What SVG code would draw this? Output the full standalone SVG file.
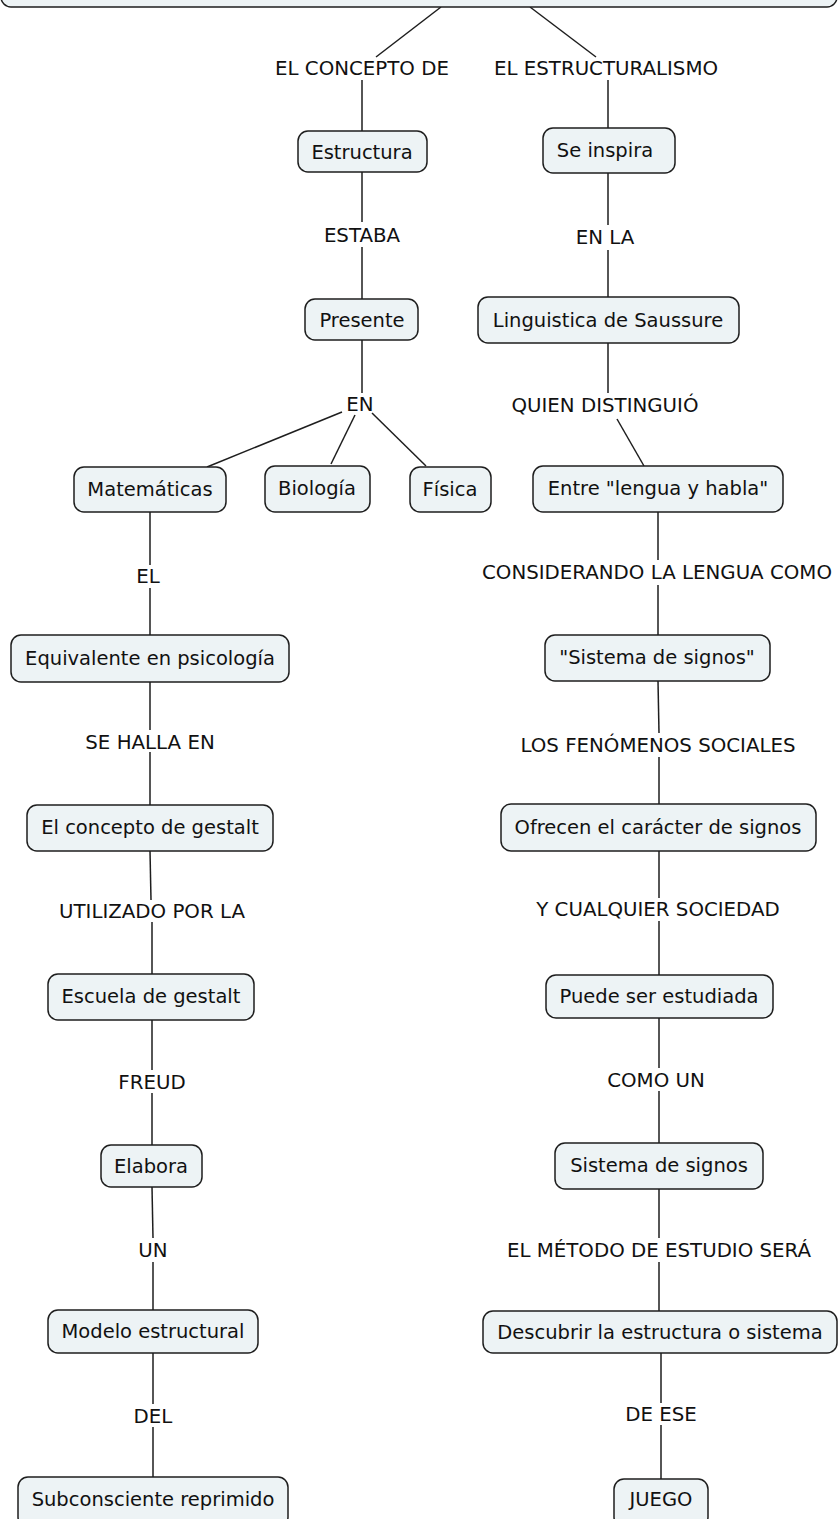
<svg xmlns="http://www.w3.org/2000/svg" width="838" height="1519" viewBox="0 0 838 1519">
<style>
.n rect{fill:#edf3f5;stroke:#1e1e1e;stroke-width:1.5}
text{font-family:"DejaVu Sans",Verdana,sans-serif;font-size:19.5px;fill:#111;text-anchor:middle}
#labels text{font-size:19.8px}
.c line{stroke:#1e1e1e;stroke-width:1.5}
</style>
<rect width="838" height="1519" fill="#fff"/>
<g class="c">
<line x1="441" y1="7" x2="376" y2="57"/>
<line x1="362" y1="80" x2="362" y2="131"/>
<line x1="530" y1="7" x2="596" y2="57"/>
<line x1="608" y1="80" x2="608" y2="128"/>
<line x1="362" y1="172" x2="362" y2="222"/>
<line x1="362" y1="247" x2="362" y2="299"/>
<line x1="608" y1="173" x2="608" y2="225"/>
<line x1="608" y1="250" x2="608" y2="297"/>
<line x1="362" y1="340" x2="362" y2="393"/>
<line x1="342" y1="412" x2="207" y2="467"/>
<line x1="355" y1="415" x2="331" y2="464"/>
<line x1="372" y1="413" x2="426" y2="466"/>
<line x1="608" y1="343" x2="608" y2="393"/>
<line x1="617" y1="419" x2="644" y2="466"/>
<line x1="150" y1="512" x2="150" y2="565"/>
<line x1="150" y1="588" x2="150" y2="635"/>
<line x1="658" y1="512" x2="658" y2="560"/>
<line x1="658" y1="585" x2="658" y2="635"/>
<line x1="150" y1="682" x2="150" y2="730"/>
<line x1="150" y1="752" x2="150" y2="805"/>
<line x1="658" y1="681" x2="659" y2="733"/>
<line x1="659" y1="757" x2="659" y2="804"/>
<line x1="150" y1="851" x2="151" y2="900"/>
<line x1="152" y1="922" x2="152" y2="974"/>
<line x1="659" y1="851" x2="659" y2="898"/>
<line x1="659" y1="921" x2="659" y2="975"/>
<line x1="152" y1="1020" x2="152" y2="1070"/>
<line x1="152" y1="1093" x2="152" y2="1145"/>
<line x1="659" y1="1018" x2="659" y2="1068"/>
<line x1="659" y1="1091" x2="659" y2="1143"/>
<line x1="152" y1="1187" x2="153" y2="1238"/>
<line x1="153" y1="1262" x2="153" y2="1310"/>
<line x1="659" y1="1189" x2="659" y2="1238"/>
<line x1="659" y1="1262" x2="659" y2="1311"/>
<line x1="153" y1="1353" x2="153" y2="1404"/>
<line x1="153" y1="1427" x2="153" y2="1477"/>
<line x1="661" y1="1353" x2="661" y2="1403"/>
<line x1="661" y1="1425" x2="661" y2="1479"/>
</g>
<g id="labels">
<text x="362" y="75">EL CONCEPTO DE</text>
<text x="606" y="75">EL ESTRUCTURALISMO</text>
<text x="362" y="242">ESTABA</text>
<text x="605" y="244">EN LA</text>
<text x="360" y="411">EN</text>
<text x="605" y="412">QUIEN DISTINGUIÓ</text>
<text x="148" y="583">EL</text>
<text x="657" y="579">CONSIDERANDO LA LENGUA COMO</text>
<text x="150" y="749">SE HALLA EN</text>
<text x="658" y="752">LOS FENÓMENOS SOCIALES</text>
<text x="152" y="918">UTILIZADO POR LA</text>
<text x="658" y="916">Y CUALQUIER SOCIEDAD</text>
<text x="152" y="1089">FREUD</text>
<text x="656" y="1087">COMO UN</text>
<text x="153" y="1257">UN</text>
<text x="659" y="1257">EL MÉTODO DE ESTUDIO SERÁ</text>
<text x="153" y="1423">DEL</text>
<text x="661" y="1421">DE ESE</text>
</g>
<g id="root" class="n"><rect x="1" y="-30" width="836" height="37" rx="10"/></g>
<g id="estructura" class="n"><rect x="298" y="131" width="129" height="41" rx="10"/><text x="362" y="159">Estructura</text></g>
<g id="seinspira" class="n"><rect x="543" y="128" width="132" height="45" rx="10"/><text x="605" y="157">Se inspira</text></g>
<g id="presente" class="n"><rect x="305" y="299" width="113" height="41" rx="10"/><text x="362" y="327">Presente</text></g>
<g id="linguistica" class="n"><rect x="478" y="297" width="261" height="46" rx="10"/><text x="608" y="327">Linguistica de Saussure</text></g>
<g id="matematicas" class="n"><rect x="74" y="467" width="152" height="45" rx="10"/><text x="150" y="496">Matemáticas</text></g>
<g id="biologia" class="n"><rect x="265" y="466" width="105" height="46" rx="10"/><text x="317" y="495">Biología</text></g>
<g id="fisica" class="n"><rect x="410" y="467" width="81" height="45" rx="10"/><text x="450" y="496">Física</text></g>
<g id="entre" class="n"><rect x="533" y="466" width="250" height="46" rx="10"/><text x="658" y="495">Entre "lengua y habla"</text></g>
<g id="equivalente" class="n"><rect x="11" y="635" width="278" height="47" rx="10"/><text x="150" y="665">Equivalente en psicología</text></g>
<g id="sistema1" class="n"><rect x="545" y="635" width="225" height="46" rx="10"/><text x="657" y="664">"Sistema de signos"</text></g>
<g id="gestalt" class="n"><rect x="27" y="805" width="246" height="46" rx="10"/><text x="150" y="834">El concepto de gestalt</text></g>
<g id="ofrecen" class="n"><rect x="501" y="804" width="315" height="47" rx="10"/><text x="658" y="834">Ofrecen el carácter de signos</text></g>
<g id="escuela" class="n"><rect x="48" y="974" width="206" height="46" rx="10"/><text x="151" y="1003">Escuela de gestalt</text></g>
<g id="puede" class="n"><rect x="546" y="975" width="227" height="43" rx="10"/><text x="659" y="1003">Puede ser estudiada</text></g>
<g id="elabora" class="n"><rect x="101" y="1145" width="101" height="42" rx="10"/><text x="151" y="1173">Elabora</text></g>
<g id="sistema2" class="n"><rect x="555" y="1143" width="208" height="46" rx="10"/><text x="659" y="1172">Sistema de signos</text></g>
<g id="modelo" class="n"><rect x="48" y="1310" width="210" height="43" rx="10"/><text x="153" y="1338">Modelo estructural</text></g>
<g id="descubrir" class="n"><rect x="483" y="1311" width="354" height="42" rx="10"/><text x="660" y="1339">Descubrir la estructura o sistema</text></g>
<g id="subconsciente" class="n"><rect x="18" y="1477" width="270" height="50" rx="10"/><text x="153" y="1506">Subconsciente reprimido</text></g>
<g id="juego" class="n"><rect x="614" y="1479" width="94" height="48" rx="10"/><text x="661" y="1506">JUEGO</text></g>
</svg>
